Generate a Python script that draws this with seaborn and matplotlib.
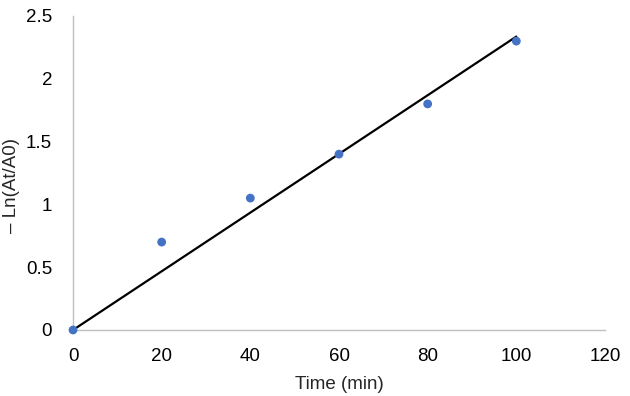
import numpy as np
import pandas as pd
import seaborn as sns
import matplotlib
matplotlib.use('Agg')
import matplotlib.pyplot as plt

tempo = [0, 20, 40, 60, 80, 100]
ln_ratio = [0, 0.7, 1.05, 1.4, 1.8, 2.3]

df = pd.DataFrame({'tempo': tempo, 'ln': ln_ratio})

# trendline forced through the origin (like Excel's "set intercept = 0")
x = np.array(tempo, dtype=float)
y = np.array(ln_ratio, dtype=float)
slope = (x * y).sum() / (x * x).sum()
df['fit'] = slope * df['tempo']

sns.set_style('white')
plt.rcParams['font.family'] = ['Liberation Sans', 'DejaVu Sans']

fig = plt.figure(figsize=(6.3, 3.96), dpi=100)
ax = fig.add_axes([0.1159, 0.1667, 0.8444, 0.7929])

sns.lineplot(data=df, x='tempo', y='fit', color='black', linewidth=1.6, ax=ax)
sns.scatterplot(data=df, x='tempo', y='ln', color='#4472C4', s=40, edgecolor='none',
                zorder=3, clip_on=False, ax=ax)

ax.set_xlim(0, 120)
ax.set_ylim(0, 2.5)
ax.set_xticks(range(0, 121, 20))
ax.set_yticks([0, 0.5, 1, 1.5, 2, 2.5])
ax.set_yticklabels(['0', '0.5', '1', '1.5', '2', '2.5'])
ax.tick_params(axis='both', length=0, labelsize=13.5, colors='black')
ax.tick_params(axis='x', pad=13)
ax.tick_params(axis='y', pad=15)

sns.despine(ax=ax)
for s in ['left', 'bottom']:
    ax.spines[s].set_color('#BFBFBF')
    ax.spines[s].set_linewidth(1)

ax.set_xlabel('Time (min)', fontsize=13.5, labelpad=8)
ax.set_ylabel('\u2013 Ln(At/A0)', fontsize=13.5)
ax.yaxis.set_label_coords(-0.099, 0.46)

fig.savefig('out.png', dpi=100)
